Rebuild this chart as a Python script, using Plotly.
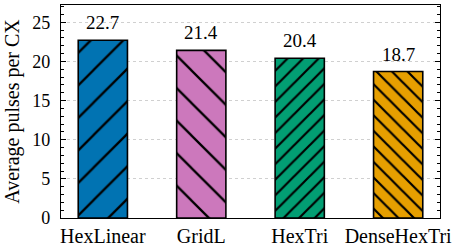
import plotly.graph_objects as go

categories = ["HexLinear", "GridL", "HexTri", "DenseHexTri"]
values = [22.7, 21.4, 20.4, 18.7]
colors = ["#0173B2", "#CC78BC", "#029E73", "#E69F00"]
hatch_shapes = ["/", "\\", "/", "\\"]
hatch_sizes = [23, 23, 11, 11]
y_ticks = [0, 5, 10, 15, 20, 25]

FONT = "Liberation Serif, DejaVu Serif, serif"

fig = go.Figure()
for c, v, col, sh, sz in zip(categories, values, colors, hatch_shapes, hatch_sizes):
    fig.add_trace(go.Bar(
        x=[c], y=[v], width=0.5,
        marker=dict(color=col, line=dict(color="black", width=1.6),
                    pattern=dict(shape=sh, size=sz, solidity=0.1 if sz > 15 else 0.2,
                                 fgcolor="black", bgcolor=col, fgopacity=1, fillmode="replace")),
        showlegend=False,
    ))
    fig.add_annotation(x=c, y=v, text=f"{v:.1f}", showarrow=False,
                       yanchor="bottom", yshift=5,
                       font=dict(family=FONT, size=19, color="black"))

fig.update_layout(
    width=453, height=247,
    margin=dict(l=61, r=13, t=5, b=29),
    plot_bgcolor="white", paper_bgcolor="white",
    bargap=0.5,
    font=dict(family=FONT, size=18, color="black"),
)
fig.update_xaxes(
    range=[-0.425, 3.425], showline=True, linecolor="black", linewidth=1.2,
    mirror=True, ticks="", showgrid=False, tickfont=dict(size=20), automargin=False,
    ticklabelstandoff=0,
)
fig.update_yaxes(
    range=[0, 27.2], tickvals=y_ticks, showline=True, linecolor="black", linewidth=1.2,
    mirror="ticks", ticks="inside", ticklen=5, tickwidth=1, tickcolor="black",
    showgrid=True, gridcolor="#d0d0d0", griddash="dot", gridwidth=0.8,
    minor=dict(ticks="inside", ticklen=3, tickwidth=0.8, tickcolor="black", dtick=1, showgrid=False),
    title=dict(text="Average pulses per CX", font=dict(size=20), standoff=7),
    tickfont=dict(size=18), zeroline=False, automargin=False,
    ticklabelstandoff=6,
)

fig.write_html("out.html", config={"displayModeBar": False},
               post_script="document.body.style.margin='0';document.body.style.overflow='hidden';")
